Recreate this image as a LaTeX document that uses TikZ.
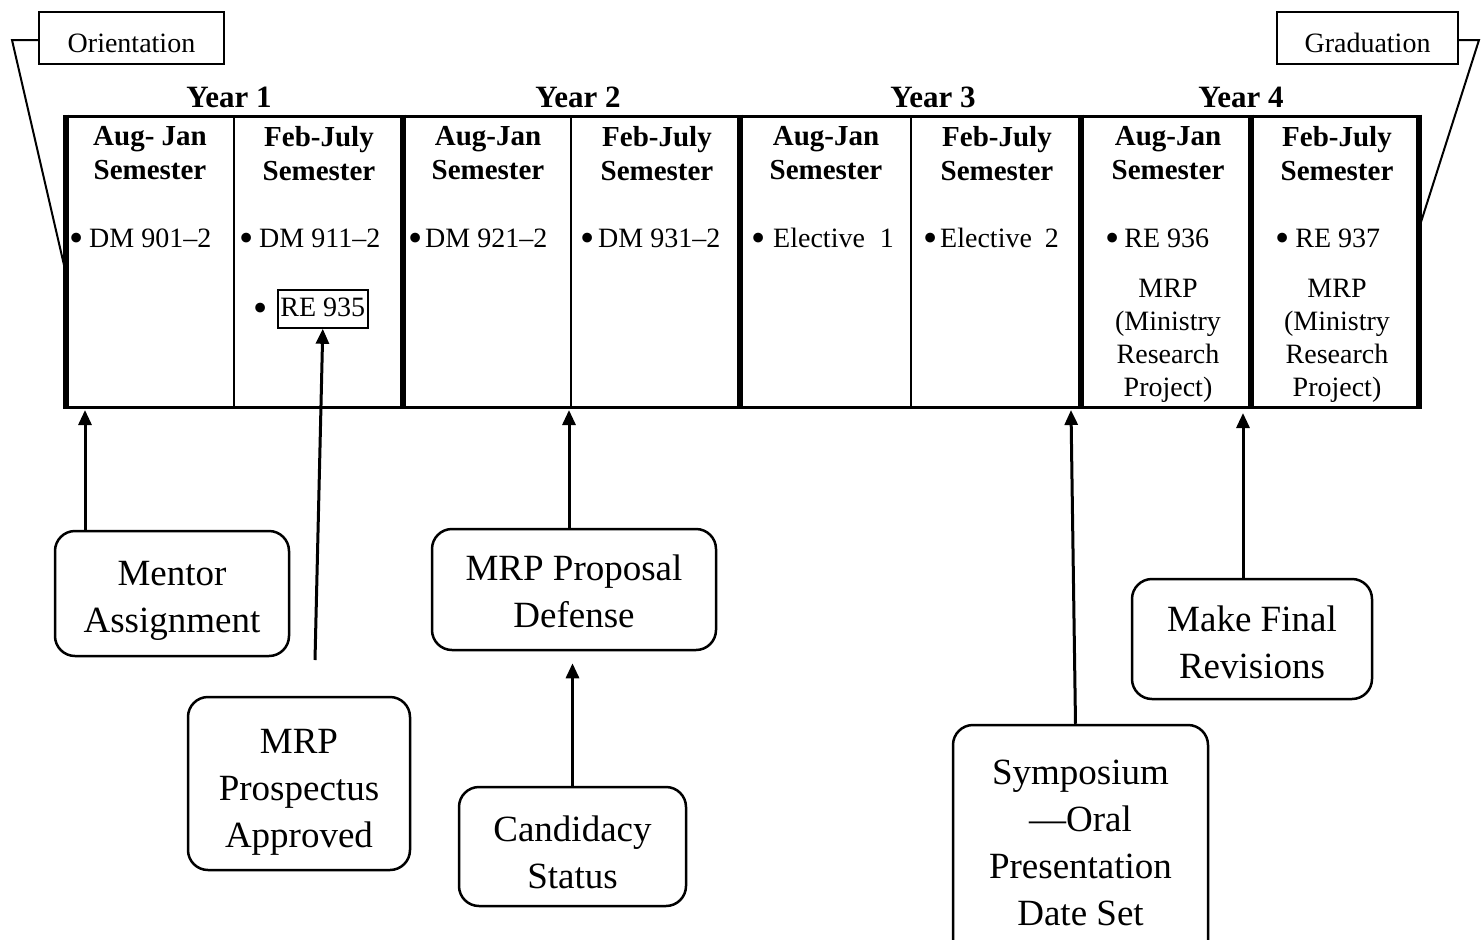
\documentclass[tikz,border=0pt]{standalone}
\usepackage{fontspec}
\setmainfont{Liberation Serif}
\usetikzlibrary{arrows.meta}
\newcommand\bul{\raisebox{-4.3pt}{\scalebox{1.45}{•}}}
\begin{document}
\begin{tikzpicture}[x=1pt,y=-1pt,
  evt/.style={draw, line width=2.5pt, rounded corners=20pt, align=center,
    font=\fontsize{37}{47}\selectfont, inner sep=0pt},
  hdr/.style={font=\fontsize{29}{34}\selectfont\bfseries, align=center, inner sep=0pt, anchor=north},
  item/.style={font=\fontsize{28}{33}\selectfont, inner sep=0pt, anchor=base west},
  mrp/.style={font=\fontsize{28}{33}\selectfont, align=center, inner sep=0pt, anchor=north},
  yr/.style={font=\fontsize{31}{36}\selectfont\bfseries, inner sep=0pt, anchor=base},
  tag/.style={draw, line width=2pt, font=\fontsize{28}{32}\selectfont,
    text height=36pt, text depth=8pt, inner ysep=4pt, anchor=north west},
  arr/.style={line width=3pt, -{Triangle[length=15pt,width=13pt]}},
  thickln/.style={line width=5.5pt},
  thinln/.style={line width=2pt},
  edge/.style={line width=3pt},
  conn/.style={line width=2pt}
]
\clip (0,0) rectangle (1481,940);

% ---- main table ----
\draw[edge] (64,116) -- (1422,116);
\draw[edge] (64,407) -- (1422,407);
\foreach \xx in {66,403,740,1081,1251,1419}
  \draw[thickln] (\xx,114.5) -- (\xx,408.5);
\foreach \xx in {234,571,911}
  \draw[thinln] (\xx,116) -- (\xx,407);

% ---- year labels ----
\node[yr] (y1) at (229,107) {Year 1};
\node[yr] (y2) at (578,107) {Year 2};
\node[yr] (y3) at (933,107) {Year 3};
\node[yr] (y4) at (1241,107) {Year 4};

% ---- semester headers ----
\node[hdr] (h1) at (150,126) {Aug- Jan\\Semester};
\node[hdr] (h2) at (319,126) {Feb-July\\Semester};
\node[hdr] (h3) at (488,126) {Aug-Jan\\Semester};
\node[hdr] (h4) at (657,126) {Feb-July\\Semester};
\node[hdr] (h5) at (826,126) {Aug-Jan\\Semester};
\node[hdr] (h6) at (997,126) {Feb-July\\Semester};
\node[hdr] (h7) at (1168,126) {Aug-Jan\\Semester};
\node[hdr] (h8) at (1337,126) {Feb-July\\Semester};

% ---- course items ----
\node[item] (i1) at (69,247) {\bul\hspace{5.8pt}DM 901–2};
\node[item] (i2) at (239,247) {\bul\hspace{5.8pt}DM 911–2};
\node[item] (i3) at (408,247) {\bul\hspace{2.8pt}DM 921–2};
\node[item] (i4) at (580,247) {\bul\hspace{3.8pt}DM 931–2};
\node[item] (i5) at (751,247) {\bul\hspace{7.8pt}Elective\hspace{15pt}1};
\node[item] (i6) at (923,247) {\bul\hspace{2.8pt}Elective\hspace{13pt}2};
\node[item] (i7) at (1105,247) {\bul\hspace{5pt}RE 936};
\node[item] (i8) at (1275,247) {\bul\hspace{6pt}RE 937};
\node[item] (i9) at (253,317) {\bul};
\node[draw, line width=1.8pt, font=\fontsize{28}{33}\selectfont,
      text height=23pt, text depth=7pt, inner ysep=4pt, inner xsep=2.5pt,
      anchor=north west] (re935) at (277,289) {RE 935};
\node[mrp] (m7) at (1168,279) {MRP\\(Ministry\\Research\\Project)};
\node[mrp] (m8) at (1337,279) {MRP\\(Ministry\\Research\\Project)};

% ---- orientation / graduation ----
\node[tag, minimum width=185pt] (orient) at (38,11) {Orientation\hspace{12pt}};
\node[tag, minimum width=181pt] (grad) at (1276,11) {Graduation};
\coordinate (oa) at (64,265);
\coordinate (ob) at (12,40);
\coordinate (ga) at (1421,222);
\coordinate (gb) at (1479,40);
\draw[conn] (orient.west |- ob) -- (ob) -- (oa);
\draw[conn] (grad.east |- gb) -- (gb) -- (ga);

% ---- event boxes ----
\node[evt, minimum width=234pt, minimum height=125pt] (mentor) at (172,593.5) {\mbox{}\\[-8pt]Mentor\\Assignment};
\node[evt, minimum width=222pt, minimum height=173pt] (prosp) at (299,783.5) {\mbox{}\\[-6pt]MRP\\Prospectus\\Approved};
\node[evt, minimum width=284pt, minimum height=121pt] (defense) at (574,589.5) {\mbox{}\\[-18pt]MRP Proposal\\Defense};
\node[evt, minimum width=227pt, minimum height=119pt] (cand) at (572.5,846.5) {\mbox{}\\[-10pt]Candidacy\\Status};
\node[evt, minimum width=255pt, minimum height=235pt] (symp) at (1080.5,842.5) {Symposium\\—Oral\\Presentation\\Date Set};
\node[evt, minimum width=240pt, minimum height=120pt] (final) at (1252,639) {\mbox{}\\[-14pt]Make Final\\Revisions};

% ---- arrows ----
\coordinate (b1) at (85,410);
\coordinate (b3) at (569,410);
\coordinate (b5) at (1071,410);
\coordinate (b6) at (1243,413);
\coordinate (pfree) at (315,660);
\coordinate (dtip) at ([yshift=-12pt]defense.south);
\draw[arr] (mentor.north -| b1) -- (b1);
\draw[arr] (pfree) -- (re935.south);
\draw[arr] (defense.north -| b3) -- (b3);
\draw[arr] (cand.north) -- (cand.north |- dtip);
\draw[arr] ([xshift=-5pt]symp.north) -- (b5);
\draw[arr] (final.north -| b6) -- (b6);
\end{tikzpicture}
\end{document}
